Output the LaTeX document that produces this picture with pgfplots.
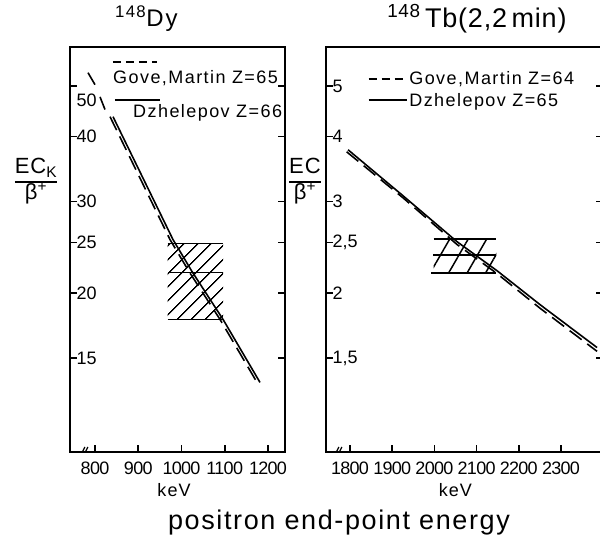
\documentclass[border=0pt]{standalone}
\usepackage{pgfplots}
\pgfplotsset{compat=1.18}
\usepackage{fontspec}
\setmainfont{Liberation Sans}
\usetikzlibrary{patterns.meta}
\newcommand{\lsp}[1]{\addfontfeature{LetterSpace=#1}}
\pgfplotsset{
  panel/.style={
    scale only axis,
    axis line style={line width=1.8pt},
    every tick/.style={line width=1.6pt, black},
    major tick length=7pt, tick align=inside,
    xtick pos=left, ytick pos=both, yticklabel pos=left,
    yticklabel style={anchor=west, xshift=3pt},
    ticklabel style={font=\fontsize{18}{20}\selectfont},
    xticklabel style={yshift=-6pt, font=\fontsize{18}{20}\selectfont\lsp{-4}},
    label style={font=\fontsize{18}{20}\selectfont\lsp{6}},
  }
}
\begin{document}
\begin{tikzpicture}
\path[use as bounding box] (0pt,0pt) rectangle (600pt,-538pt);
% ---------------- left panel ----------------
\begin{axis}[panel, ymode=log,
  at={(70pt,-452pt)}, anchor=south west,
  width=215pt, height=405pt,
  xmin=742.2, xmax=1239.3, ymin=9.89, ymax=59.5,
  xtick={800,900,1000,1100,1200},
  xticklabels={800,900,1000,1100,1200},
  ytick={15,20,25,30,40,50},
  yticklabels={15,20,25,30,40,\raisebox{-20pt}[0pt][0pt]{50}},
  xlabel={keV},
  xlabel style={at={(axis description cs:0.484,0)}, anchor=north, yshift=-28pt},
  ylabel={{\setlength{\arrayrulewidth}{1.6pt}\begin{tabular}{@{}c@{}}EC\textsubscript{K}\\\hline β\textsuperscript{+}\end{tabular}}},
  ylabel style={rotate=-90, at={(axis description cs:-0.158,0.667)}, anchor=center, font=\fontsize{22}{24}\selectfont\lsp{4}},
  title={\textsuperscript{148}Dy},
  title style={at={(axis description cs:0.355,1)}, anchor=base, yshift=14pt, font=\fontsize{24}{26}\selectfont\lsp{8}},
]
% hatched box
\addplot[draw=none, pattern={Lines[angle=45,distance=10.5pt,line width=1.5pt]}]
  coordinates {(968,17.8) (1096,17.8) (1096,24.9) (968,24.9)} -- cycle;
\addplot[line width=1.7pt] coordinates {(968,24.9) (1096,24.9)};
\addplot[line width=1.7pt] coordinates {(970,21.9) (1097,21.9)};
\addplot[line width=1.7pt] coordinates {(968,17.8) (1096,17.8)};
% Gove, Martin (dashed)
\addplot[line width=1.6pt, dash pattern=on 15pt off 7pt]
  coordinates {(834.7,43.7) (973.4,25.35) (1017.4,22.0) (1089,17.8) (1174.6,13.46)};
\addplot[line width=1.6pt] coordinates {(783.8,53.1) (800,50.35)};
\addplot[line width=1.6pt] coordinates {(811.6,47.7) (823.1,45.1)};
% Dzhelepov (solid)
\addplot[line width=1.6pt]
  coordinates {(841.6,43.7) (980.3,25.35) (1024.3,22.0) (1096,17.8) (1181.5,13.46)};
% legend
\draw[line width=1.6pt, dash pattern=on 8pt off 5pt] (axis description cs:0.2,0.963) -- (axis description cs:0.405,0.963);
\node[anchor=west, inner sep=0pt, font=\fontsize{18}{20}\selectfont\lsp{8}] at (axis description cs:0.2,0.923) {Gove,Martin Z=65};
\draw[line width=1.6pt] (axis description cs:0.209,0.869) -- (axis description cs:0.419,0.869);
\node[anchor=west, inner sep=0pt, font=\fontsize{18}{20}\selectfont\lsp{8}] at (axis description cs:0.293,0.837) {Dzhelepov Z=66};
% axis break
\draw[line width=1.2pt] ([shift={(-6pt,-5pt)}]axis description cs:0.074,0) -- ++(5pt,10pt);
\draw[line width=1.2pt] ([shift={(-3pt,-5pt)}]axis description cs:0.074,0) -- ++(5pt,10pt);
\end{axis}
% ---------------- right panel ----------------
\begin{axis}[panel, ymode=log,
  at={(326pt,-452pt)}, anchor=south west,
  width=277pt, height=405pt,
  xmin=1743.1, xmax=2399.5, ymin=0.989, ymax=5.95,
  xtick={1800,1900,2000,2100,2200,2300},
  xticklabels={1800,1900,2000,2100,2200,2300},
  ytick={1.5,2,2.5,3,4,5},
  yticklabels={1{,}5,2,2{,}5,3,4,5},
  xlabel={keV},
  xlabel style={at={(axis description cs:0.467,0)}, anchor=north, yshift=-28pt},
  ylabel={{\setlength{\arrayrulewidth}{1.6pt}\begin{tabular}{@{}c@{}}EC\\\hline β\textsuperscript{+}\end{tabular}}},
  ylabel style={rotate=-90, at={(axis description cs:-0.076,0.667)}, anchor=center, font=\fontsize{22}{24}\selectfont\lsp{4}},
  title={\textsuperscript{148}\,Tb(2,2\,min)},
  title style={at={(axis description cs:0.545,1)}, anchor=base, yshift=14pt, font=\fontsize{27}{29}\selectfont\lsp{3}},
  legend style={at={(axis description cs:0.15,0.945)}, anchor=north west, draw=none, fill=none,
    inner sep=0pt, row sep=3pt, font=\fontsize{18}{20}\selectfont\lsp{8},
    nodes={inner sep=2pt}},
  legend cell align=left,
  legend image code/.code={\draw[#1] (0pt,0pt) -- (38pt,0pt);},
]
\addplot[draw=none, pattern={Lines[angle=60,distance=16pt,line width=1.5pt]}, forget plot]
  coordinates {(1998,2.189) (2147,2.189) (2147,2.545) (1998,2.545)} -- cycle;
\addplot[line width=1.7pt, forget plot] coordinates {(1998,2.545) (2147,2.545)};
\addplot[line width=1.7pt, forget plot] coordinates {(1997,2.371) (2147,2.371)};
\addplot[line width=1.7pt, forget plot] coordinates {(1993,2.189) (2147,2.189)};
\addplot[line width=1.6pt, dash pattern=on 15pt off 7pt, forget plot]
  coordinates {(1792,3.74) (1925.6,3.05) (2053.6,2.48) (2148.4,2.18) (2250.3,1.87) (2385.4,1.545)};
\addplot[line width=1.6pt, forget plot]
  coordinates {(1795.3,3.774) (1925.6,3.078) (2053.6,2.511) (2148.4,2.208) (2250.3,1.900) (2385.4,1.571)};
\addlegendimage{line width=1.6pt, dash pattern=on 8pt off 5pt}
\addlegendentry{Gove,Martin Z=64}
\addlegendimage{line width=1.6pt}
\addlegendentry{Dzhelepov Z=65}
\draw[line width=1.2pt] ([shift={(-6pt,-5pt)}]axis description cs:0.05,0) -- ++(5pt,10pt);
\draw[line width=1.2pt] ([shift={(-3pt,-5pt)}]axis description cs:0.05,0) -- ++(5pt,10pt);
\end{axis}
\node[font=\fontsize{27}{29}\selectfont\lsp{6}] at (339pt,-523pt) {positron end-point energy};
\end{tikzpicture}
\end{document}
